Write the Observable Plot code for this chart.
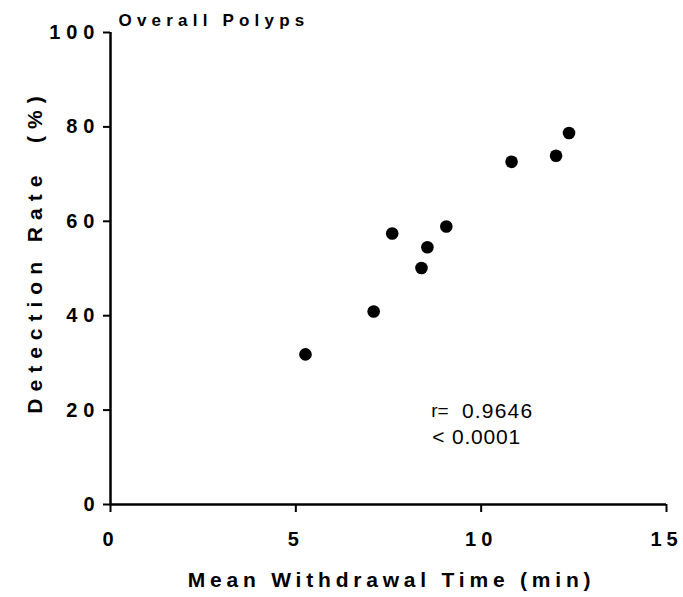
<!DOCTYPE html>
<html>
<head>
<meta charset="utf-8">
<script src="https://cdn.jsdelivr.net/npm/d3@7"></script>
<script src="https://cdn.jsdelivr.net/npm/@observablehq/plot@0.6"></script>
<style>
  body { margin: 0; background: #fff; }
  #chart svg { font-family: "Liberation Sans", Arial, sans-serif; }
  #chart svg text { white-space: pre; }
</style>
</head>
<body>
<div id="chart"></div>
<script>
// Data
const withdrawalTime = [5.26, 7.10, 7.60, 8.39, 8.55, 9.06, 10.82, 12.02, 12.37];
const detectionRate  = [31.8, 40.9, 57.4, 50.1, 54.5, 58.9, 72.6, 73.9, 78.7];
const xTicks = [0, 5, 10, 15];
const yTicks = [0, 20, 40, 60, 80, 100];
const titleText = "Overall Polyps";
const xLabel = "Mean Withdrawal Time (min)";
const yLabel = "Detection Rate  (%)";
const rLabel = "r=";
const rValue = "0.9646";
const pValue = "< 0.0001";

const points = withdrawalTime.map((x, i) => ({x, y: detectionRate[i]}));

const chart = Plot.plot({
  width: 683,
  height: 597,
  marginLeft: 110,
  marginRight: 17,
  marginTop: 32,
  marginBottom: 93,
  x: {domain: [0, 15]},
  y: {domain: [0, 100]},
  marks: [
    Plot.axisX({ticks: xTicks, tickSize: 8, tickPadding: 19, stroke: "#000", strokeWidth: 2,
      label: null, fill: "#000"}),
    Plot.axisY({ticks: yTicks, tickSize: 7, tickPadding: 3, stroke: "#000", strokeWidth: 2,
      label: null, fill: "#000"}),
    Plot.ruleX([0], {stroke: "#000", strokeWidth: 2.5}),
    Plot.ruleY([0], {stroke: "#000", strokeWidth: 2.5}),
    Plot.dot(points, {x: "x", y: "y", r: 6.3, fill: "#000", stroke: "none"}),
    Plot.text([titleText], {frameAnchor: "top-left", lineAnchor: "middle", dx: 8, dy: -12.4, text: d => d,
      fontSize: 17, fontWeight: "bold", textAnchor: "start", fill: "#000"}),
    Plot.text([xLabel], {frameAnchor: "bottom", lineAnchor: "middle", dx: 3, dy: 76, text: d => d,
      fontSize: 21, fontWeight: "bold", fill: "#000"}),
    Plot.text([yLabel], {frameAnchor: "left", lineAnchor: "middle", textAnchor: "middle", dx: -75, dy: -17,
      rotate: -90, text: d => d, fontSize: 21, fontWeight: "bold", fill: "#000"}),
    Plot.text([rLabel], {x: 8.65, y: 19.83, text: d => d, fontSize: 19, textAnchor: "start", fill: "#000"}),
    Plot.text([rValue], {x: 9.48, y: 19.85, text: d => d, fontSize: 21, textAnchor: "start", fill: "#000"}),
    Plot.text([pValue], {x: 8.68, y: 14.28, text: d => d, fontSize: 21, textAnchor: "start", fill: "#000"})
  ]
});
// GraphPad-style letter spacing
const spacing = new Map([[titleText, "5.2px"], [xLabel, "4.8px"], [yLabel, "7px"],
  [rValue, "1.2px"], [pValue, "0.8px"]]);
d3.select(chart).selectAll("text").each(function() {
  const t = this.textContent;
  if (spacing.has(t)) this.style.letterSpacing = spacing.get(t);
});
d3.select(chart).selectAll('g[aria-label="y-axis tick label"] text')
  .style("font-size", "20px").style("font-weight", "bold").style("letter-spacing", "6px");
d3.select(chart).selectAll('g[aria-label="x-axis tick label"] text')
  .style("font-size", "20px").style("font-weight", "bold").style("letter-spacing", "5px");
document.getElementById("chart").appendChild(chart);
</script>
</body>
</html>
